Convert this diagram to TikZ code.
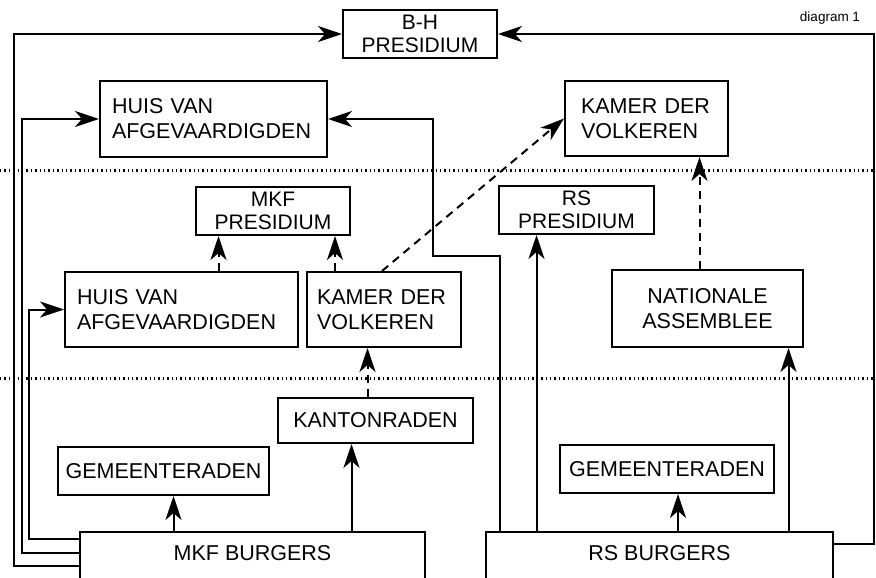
\documentclass[tikz,border=0pt]{standalone}
\usepackage{fontspec}
\setmainfont{Liberation Sans}
\setsansfont{Liberation Sans}
\usetikzlibrary{arrows.meta}

\begin{document}
\begin{tikzpicture}[
   x=1pt,y=-1pt,
   font=\sffamily\fontsize{21.5pt}{25pt}\selectfont,
   every node/.style={line width=2pt,inner sep=0pt},
   box/.style={draw,align=center,minimum height=48pt},
   pres/.style={box,font=\sffamily\fontsize{21pt}{23pt}\selectfont},
   house/.style={draw,align=left,minimum height=75pt,inner xsep=#1},
   citizens/.style={draw,anchor=base,text height=28pt,text depth=40pt},
   to/.style={-{Stealth[length=24pt,width=16pt,inset=7pt]},line width=2pt},
   dto/.style={to,dash pattern=on 8pt off 6pt},
   level/.style={line width=3pt,dash pattern=on 1.4pt off 3pt}]
\useasboundingbox (0,0) rectangle (876,578);
\draw[level] (0,170) -- (876,170);
\draw[level] (0,378) -- (876,378);
\node[pres,minimum width=154pt] (P_{BH}) at (420,34) {B-H\\PRESIDIUM};
\node[house=12pt,text width=203pt] (H_{BH}) at (213.5,119) {HUIS VAN\\AFGEVAARDIGDEN};
\node[house=16pt,text width=131pt] (K_{BH}) at (646.5,118.5) {KAMER DER\\VOLKEREN};
\node[pres,minimum width=154pt] (P_{MKF}) at (273,211) {MKF\\PRESIDIUM};
\node[house=12pt,text width=209pt] (H_{MKF}) at (181.5,309.5) {HUIS VAN\\AFGEVAARDIGDEN};
\node[house=10pt,text width=134pt] (K_{MKF}) at (384,309.5) {KAMER DER\\VOLKEREN};
\node[box,minimum width=195pt,minimum height=45pt] (KR_{MKF}) at (375.5,420.5) {KANTONRADEN};
\node[box,minimum width=211pt] (G_{MKF}) at (163.5,471) {GEMEENTERADEN};
\node[citizens,minimum width=345pt] (B_{MKF}) at (252.5,560) {MKF BURGERS};
\node[pres,minimum width=155pt] (P_{RS}) at (576.5,210) {RS\\PRESIDIUM};
\node[box,minimum width=191pt,minimum height=77pt] (NA_{RS}) at (707.5,308.5) {NATIONALE\\ASSEMBLEE};
\node[box,minimum width=214pt] (G_{RS}) at (667,469) {GEMEENTERADEN};
\node[citizens,minimum width=347pt] (B_{RS}) at (659.5,560) {RS BURGERS};
\node[font=\sffamily\fontsize{13.5pt}{16pt}\selectfont] (title) at (830,18) {diagram 1};
\coordinate (c1) at (14,34);
\coordinate (c2) at (22,119);
\coordinate (c3) at (29,309.5);
\coordinate (c4) at (874,34);
\coordinate (c5) at (433,256);
\draw[to] (B_{MKF}.west) -| (c1) -- (P_{BH}.west);
\draw[to] ([yshift=13pt]B_{MKF}.west) -| (c2) -- (H_{BH}.west);
\draw[to] ([yshift=27pt]B_{MKF}.west) -| (c3) -- (H_{MKF}.west);
\draw[to] ([yshift=22pt]B_{RS}.east) -| (c4) -- (P_{BH}.east);
\draw[to] ([xshift=-160pt]B_{RS}.north) |- (c5) |- (H_{BH}.east);
\draw[to] ([xshift=10pt]G_{MKF}.south |- B_{MKF}.north) -- ([xshift=10pt]G_{MKF}.south);
\draw[to] ([xshift=-24pt]KR_{MKF}.south |- B_{MKF}.north) -- ([xshift=-24pt]KR_{MKF}.south);
\draw[dto] ([xshift=-8pt]KR_{MKF}.north) -- ([xshift=-8pt]KR_{MKF}.north |- K_{MKF}.south);
\draw[dto] ([xshift=37pt]H_{MKF}.north) -- ([xshift=37pt]H_{MKF}.north |- P_{MKF}.south);
\draw[dto] ([xshift=-49pt]K_{MKF}.north) -- ([xshift=-49pt]K_{MKF}.north |- P_{MKF}.south);
\draw[dto] ([xshift=-2pt]K_{MKF}.north) -- (K_{BH}.west);
\draw[to] ([xshift=-40pt]P_{RS}.south |- B_{RS}.north) -- ([xshift=-40pt]P_{RS}.south);
\draw[to] ([xshift=11pt]G_{RS}.south |- B_{RS}.north) -- ([xshift=11pt]G_{RS}.south);
\draw[to] ([xshift=81pt]NA_{RS}.south |- B_{RS}.north) -- ([xshift=81pt]NA_{RS}.south);
\draw[dto] ([xshift=-8pt]NA_{RS}.north) -- ([xshift=-8pt]NA_{RS}.north |- K_{BH}.south);
\end{tikzpicture}
\end{document}
